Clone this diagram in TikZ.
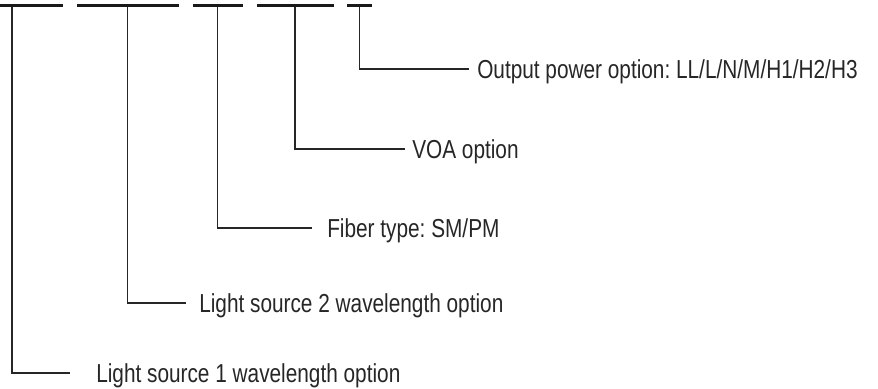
\documentclass[tikz,border=0pt]{standalone}
\usepackage{fontspec}
\setmainfont[FakeStretch=0.8]{Liberation Sans}
\usetikzlibrary{positioning}
\frenchspacing

\begin{document}
\begin{tikzpicture}[
  x=0.75pt, y=-0.75pt,
  every node/.style={font=\fontsize{19.5pt}{23pt}\selectfont},
  field/.style={fill=black!90, inner sep=0pt, minimum height=1.8pt},
  lbl/.style={anchor=west, inner sep=0pt, text height=13.9pt, text depth=0pt, text=black!85},
  lead/.style={line width=1pt, black!85},
]
\clip (0,0) rectangle (878,389);

% code fields (top edge, cut off)
\node[field, minimum width=76.5pt]  at (12,5.5)    (g1) {};
\node[field, minimum width=76.5pt]  at (127.5,5.5) (g2) {};
\node[field, minimum width=37.5pt]  at (217.5,5.5) (g3) {};
\node[field, minimum width=57.75pt] at (295,5.5)   (g4) {};
\node[field, minimum width=18.75pt] at (359.5,5.5) (g5) {};

\node[lbl] at (477,69)  (power) {Output power option: LL/L/N/M/H1/H2/H3};
\node[lbl] at (412,149) (voa)   {VOA option};
\node[lbl] at (327,228) (fiber) {Fiber type: SM/PM};
\node[lbl] at (199,303) (src2)  {Light source 2 wavelength option};
\node[lbl] at (96,373)  (src1)  {Light source 1 wavelength option};

\coordinate (e5) at (469,69);
\coordinate (e4) at (405,149);
\coordinate (e3) at (312,228);
\coordinate (e2) at (186,303);
\coordinate (e1) at (70,373);

\draw[lead] (g5.south) |- (e5);
\draw[lead] (g4.south) |- (e4);
\draw[lead] (g3.south) |- (e3);
\draw[lead] (g2.south) |- (e2);
\draw[lead] (g1.south) |- (e1);
\end{tikzpicture}
\end{document}
